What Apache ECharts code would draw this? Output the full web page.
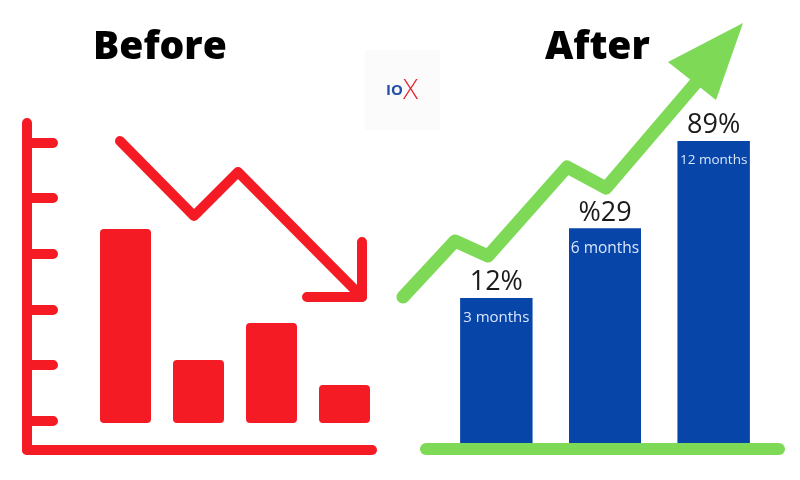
<!DOCTYPE html>
<html><head><meta charset="utf-8">
<script src="https://cdn.jsdelivr.net/npm/echarts@6/dist/echarts.min.js"></script>
<style>html,body{margin:0;padding:0;background:#fff}#c{width:800px;height:480px}</style>
</head><body><div id="c"></div>
<script>
// ---- data ----
const beforeCategories = ['Q1', 'Q2', 'Q3', 'Q4'];
const beforeValues = [194, 63, 100, 38];
const afterCategories = ['3 months', '6 months', '12 months'];
const afterValues = [48, 71, 100];
const afterLabels = ['12%', '%29', '89%'];
const redTrend = [[120, 141], [194, 216], [238, 172], [362, 297]];
const redHead = [[362, 242], [362, 297], [307, 297]];
const greenTrend = [[403, 297], [455, 241], [488, 256], [567, 167], [606, 188], [700, 78]];
const greenHead = [[743, 23], [668, 62], [716, 100]];
const frameTicks = [29, 85, 140, 196, 252, 307];

// ---- styles ----
const monthFontSizes = [15, 15.5, 13.5];
const RED = '#f51b24', BLUE = '#0746a8', GREEN = '#7ed957';
const chart = echarts.init(document.getElementById('c'), null, {renderer: 'canvas'});
const hidden = {show: false};
const titleStyle = {fontFamily: 'Open Sans', fontWeight: 800, fontSize: 39, color: '#000'};
chart.setOption({
  backgroundColor: '#ffffff',
  animation: false,
  title: [
    {text: 'Before', left: 93, top: 28, padding: 0, textStyle: titleStyle},
    {text: 'After', left: 545, top: 28, padding: 0, textStyle: titleStyle}
  ],
  graphic: [
    {type: 'rect', shape: {x: 365, y: 50, width: 75, height: 80}, style: {fill: '#fbfbfb'}, z: -1},
    {type: 'text', x: 386, y: 76, style: {text: '{a|IO}{b|X}', rich: {
      a: {fontFamily: 'Open Sans', fontWeight: 700, fontSize: 15, fill: '#2350a6', verticalAlign: 'middle', lineHeight: 30},
      b: {fontFamily: 'Open Sans', fontWeight: 300, fontSize: 28, fill: '#e8242c', verticalAlign: 'middle', lineHeight: 30}
    }}}
  ],
  grid: [
    {left: 27, top: 123, width: 345, height: 327},   // 0 red frame
    {left: 89, top: 223, width: 292, height: 200},   // 1 red bars
    {left: 442, top: 141, width: 326, height: 302},  // 2 blue bars
    {left: 426, top: 440, width: 353, height: 9},    // 3 green baseline
    {left: 0, top: 0, width: 800, height: 480}       // 4 overlay arrows
  ],
  xAxis: [
    {gridIndex: 0, type: 'value', min: 0, max: 1, axisLine: {lineStyle: {color: RED, width: 10, cap: 'round'}}, axisTick: hidden, axisLabel: hidden, splitLine: hidden},
    {gridIndex: 1, type: 'category', data: beforeCategories, show: false},
    {gridIndex: 2, type: 'category', data: afterCategories, show: false},
    {gridIndex: 3, type: 'value', min: 0, max: 1, axisLine: {lineStyle: {color: GREEN, width: 12, cap: 'round'}}, axisTick: hidden, axisLabel: hidden, splitLine: hidden},
    {gridIndex: 4, type: 'value', min: 0, max: 800, show: false}
  ],
  yAxis: [
    {gridIndex: 0, type: 'value', min: 0, max: 327, axisLine: {show: true, lineStyle: {color: RED, width: 10, cap: 'round'}},
      axisTick: {show: true, inside: true, length: 26, customValues: frameTicks, lineStyle: {color: RED, width: 10, cap: 'round'}},
      axisLabel: hidden, splitLine: hidden},
    {gridIndex: 1, type: 'value', min: 0, max: 200, show: false},
    {gridIndex: 2, type: 'value', min: 0, max: 100, show: false},
    {gridIndex: 3, type: 'value', min: 0, max: 1, show: false},
    {gridIndex: 4, type: 'value', min: 0, max: 480, inverse: true, show: false}
  ],
  series: [
    {type: 'bar', xAxisIndex: 1, yAxisIndex: 1, data: beforeValues, barWidth: 51, itemStyle: {color: RED, borderRadius: 4}},
    {type: 'bar', xAxisIndex: 2, yAxisIndex: 2, data: afterValues, barWidth: 72, barGap: '-100%', itemStyle: {color: BLUE},
      label: {show: true, position: 'top', distance: 2, formatter: p => afterLabels[p.dataIndex], fontFamily: 'Open Sans', fontSize: 27, color: '#1a1a1a'}},
    {type: 'bar', xAxisIndex: 2, yAxisIndex: 2, barWidth: 72, barGap: '-100%', itemStyle: {color: BLUE},
      data: afterValues.map((v, i) => ({value: v, label: {fontSize: monthFontSizes[i]}})),
      label: {show: true, position: 'insideTop', distance: 12, formatter: p => p.name, fontFamily: 'Open Sans', color: '#dbe6ff'}},
    {type: 'line', xAxisIndex: 4, yAxisIndex: 4, data: redTrend, symbol: 'none', lineStyle: {color: RED, width: 10, cap: 'round', join: 'round'}},
    {type: 'line', xAxisIndex: 4, yAxisIndex: 4, data: redHead, symbol: 'none', lineStyle: {color: RED, width: 10, cap: 'round', join: 'round'}},
    {type: 'line', xAxisIndex: 4, yAxisIndex: 4, data: greenTrend, symbol: 'none', lineStyle: {color: GREEN, width: 13, cap: 'round', join: 'round'}},
    {type: 'custom', xAxisIndex: 4, yAxisIndex: 4, data: [0],
      renderItem: (params, api) => ({type: 'polygon', shape: {points: greenHead.map(p => api.coord(p))}, style: {fill: GREEN}})}
  ]
});
</script></body></html>
